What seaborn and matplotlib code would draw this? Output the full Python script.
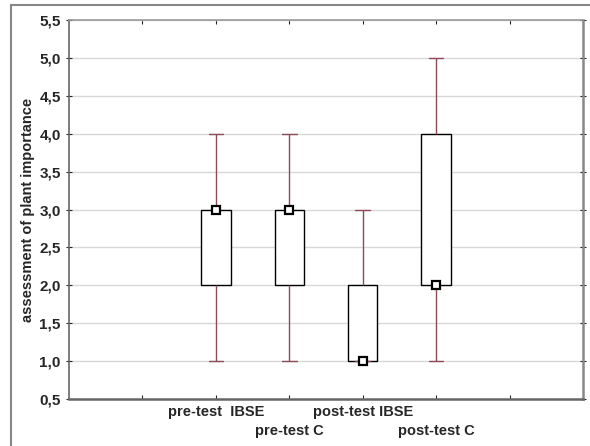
import matplotlib
matplotlib.use("Agg")
import matplotlib.pyplot as plt
import seaborn as sns
import pandas as pd
from matplotlib.patches import Rectangle
from matplotlib.ticker import FixedLocator, FuncFormatter
from matplotlib.transforms import blended_transform_factory, ScaledTranslation

categories = ["pre-test  IBSE", "pre-test C", "post-test IBSE", "post-test C"]
# five-number summaries: min, Q1, median, Q3, max
pre_ibse = [1, 2, 3, 3, 4]
pre_c = [1, 2, 3, 3, 4]
post_ibse = [1, 1, 1, 2, 3]
post_c = [1, 2, 2, 4, 5]
medians = [3, 3, 1, 2]
y_ticks = [0.5, 1.0, 1.5, 2.0, 2.5, 3.0, 3.5, 4.0, 4.5, 5.0, 5.5]
y_label = "assessment of plant importance"

sns.set_style("white")
plt.rcParams["font.family"] = ["Liberation Sans", "DejaVu Sans"]
plt.rcParams["font.weight"] = "bold"

series = [pre_ibse, pre_c, post_ibse, post_c]
df = pd.DataFrame({
    "group": [c for c, s in zip(categories, series) for _ in s],
    "value": [v for s in series for v in s],
})

fig = plt.figure(figsize=(5.9, 4.46), dpi=100)
ax = fig.add_axes([69 / 590, 1 - 399 / 446, (583 - 69) / 590, (399 - 20) / 446])

whisk_col = "#8E4A55"
sns.boxplot(data=df, x="group", y="value", order=categories, ax=ax,
            whis=(0, 100), width=0.4, color="white", linewidth=1.0,
            boxprops=dict(edgecolor="black", facecolor="white", zorder=3),
            whiskerprops=dict(color=whisk_col, linewidth=1.0),
            capprops=dict(color=whisk_col, linewidth=1.0),
            medianprops=dict(linewidth=0), showfliers=False, zorder=3)
for i, m in enumerate(medians):
    ax.plot(i, m, marker="s", markersize=6, markerfacecolor="white",
            markeredgecolor="black", markeredgewidth=1.6, zorder=6, clip_on=False)

ax.set_xlim(-2, 5)
ax.set_ylim(0.5, 5.5)
ax.yaxis.set_major_locator(FixedLocator(y_ticks))
ax.yaxis.set_major_formatter(FuncFormatter(lambda v, p: f"{v:.1f}".replace(".", ",")))
ax.set_xticks([-1, 0, 1, 2, 3, 4])
ax.set_xticklabels([""] * 6)
ax.grid(axis="y", color="#d8d8d8", linewidth=1.0, zorder=0)
ax.set_axisbelow(True)
ax.set_xlabel("")
ax.set_ylabel(y_label, fontsize=10.5, fontweight="bold", labelpad=3)
ax.tick_params(axis="y", labelsize=11, left=True, right=True, length=4, width=0.8,
               direction="inout", pad=4)
ax.tick_params(axis="x", bottom=True, top=True, direction="in",
               length=3, width=0.8)
for lab in ax.get_yticklabels():
    lab.set_fontweight("bold")

# staggered category labels
base = blended_transform_factory(ax.transData, ax.transAxes)
for i, name in enumerate(categories):
    dy = -0.06 if i % 2 == 0 else -0.25
    tr = base + ScaledTranslation(0, dy, fig.dpi_scale_trans)
    ax.text(i, 0, name, transform=tr, ha="center", va="top",
            fontsize=10.5, fontweight="bold")

for side in ["left", "bottom", "top", "right"]:
    ax.spines[side].set_visible(True)
    ax.spines[side].set_color("#666666")
    ax.spines[side].set_linewidth(1.2)
ax.spines["top"].set_color("#999999")
ax.spines["right"].set_color("#888888")
ax.spines["right"].set_linewidth(1.8)
ax.spines["bottom"].set_linewidth(1.8)

fig.patches.append(Rectangle((11 / 590, -0.01), 1.0, 1 - 5 / 446 + 0.01,
                             transform=fig.transFigure, fill=False,
                             edgecolor="#888888", linewidth=1.5))
fig.savefig("out.png", dpi=100)
